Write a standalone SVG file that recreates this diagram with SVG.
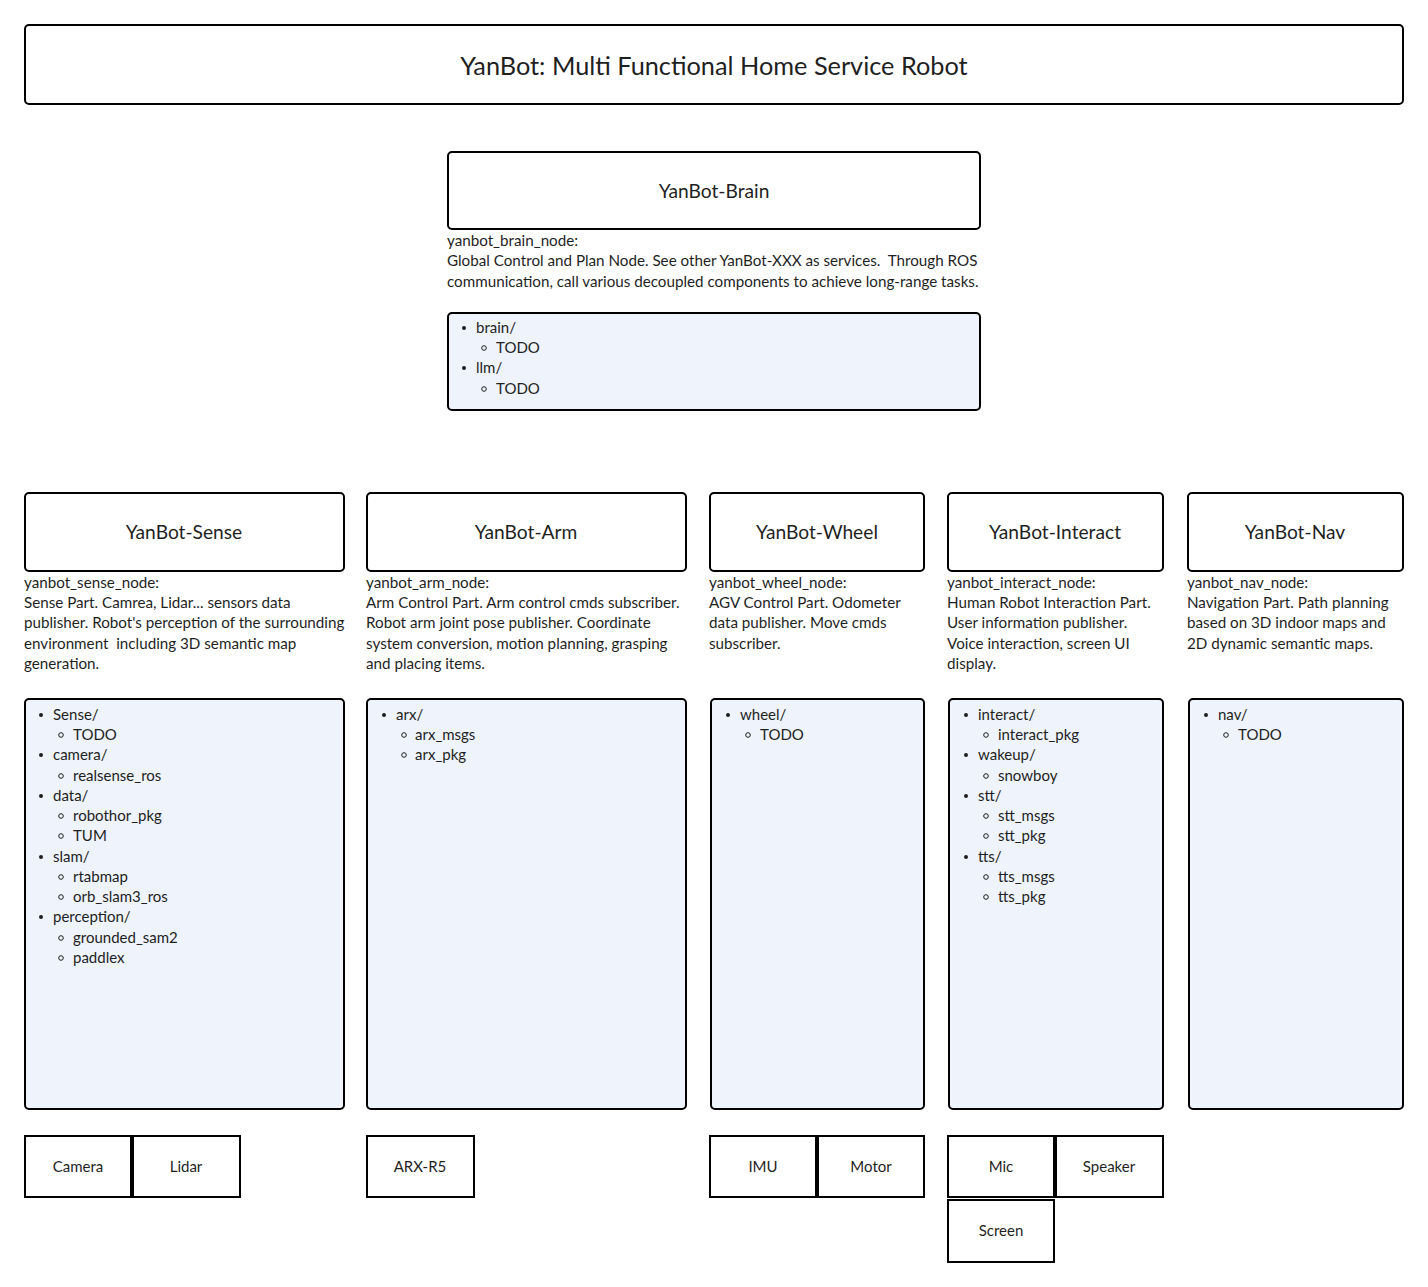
<svg xmlns="http://www.w3.org/2000/svg" width="1428" height="1287" viewBox="0 0 1428 1287">
<style>
text{font-family:Lato,"Source Sans Pro","Liberation Sans",sans-serif;fill:#1f1f1f;white-space:pre}
.box{fill:#fff;stroke:#000;stroke-width:2}
.list{fill:#eef3fc;stroke:#000;stroke-width:2}
.sq{fill:#fff;stroke:#000;stroke-width:2}
.t{font-size:19.2px;text-anchor:middle}
.d{font-size:15.2px}
.l{font-size:15px}
.s{font-size:15px;text-anchor:middle}
.b{fill:#1f1f1f}
.c{fill:none;stroke:#1f1f1f;stroke-width:1}
</style>
<g id="title"><rect class="box" x="25" y="25" width="1378" height="79" rx="4"/><text x="714" y="75" style="font-size:25.3px;text-anchor:middle">YanBot: Multi Functional Home Service Robot</text></g>

<g id="brain">
<rect class="box" x="448" y="152" width="532" height="77" rx="4"/>
<text class="t" x="714" y="198">YanBot-Brain</text>
<text class="d" x="447" y="246">yanbot_brain_node:</text>
<text class="d" x="447" y="266">Global Control and Plan Node. See other YanBot-XXX as services.  Through ROS</text>
<text class="d" x="447" y="287">communication, call various decoupled components to achieve long-range tasks.</text>
</g>
<g id="brain-list">
<rect class="list" x="448" y="313" width="532" height="97" rx="4"/>
<circle class="b" cx="464" cy="328" r="2"/><text class="l" x="476" y="333">brain/</text>
<circle class="c" cx="484" cy="348" r="2.3"/><text class="l" x="496" y="353">TODO</text>
<circle class="b" cx="464" cy="368" r="2"/><text class="l" x="476" y="373">llm/</text>
<circle class="c" cx="484" cy="389" r="2.3"/><text class="l" x="496" y="394">TODO</text>
</g>

<g id="sense">
<rect class="box" x="25" y="493" width="319" height="78" rx="4"/>
<text class="t" x="184" y="539">YanBot-Sense</text>
<text class="d" x="24" y="588">yanbot_sense_node:</text>
<text class="d" x="24" y="608">Sense Part. Camrea, Lidar... sensors data</text>
<text class="d" x="24" y="628">publisher. Robot's perception of the surrounding</text>
<text class="d" x="24" y="649">environment  including 3D semantic map</text>
<text class="d" x="24" y="669">generation.</text>
</g>
<g id="sense-list">
<rect class="list" x="25" y="699" width="319" height="410" rx="4"/>
<circle class="b" cx="41" cy="715" r="2"/><text class="l" x="53" y="720">Sense/</text>
<circle class="c" cx="61" cy="735" r="2.3"/><text class="l" x="73" y="740">TODO</text>
<circle class="b" cx="41" cy="755" r="2"/><text class="l" x="53" y="760">camera/</text>
<circle class="c" cx="61" cy="776" r="2.3"/><text class="l" x="73" y="781">realsense_ros</text>
<circle class="b" cx="41" cy="796" r="2"/><text class="l" x="53" y="801">data/</text>
<circle class="c" cx="61" cy="816" r="2.3"/><text class="l" x="73" y="821">robothor_pkg</text>
<circle class="c" cx="61" cy="836" r="2.3"/><text class="l" x="73" y="841">TUM</text>
<circle class="b" cx="41" cy="857" r="2"/><text class="l" x="53" y="862">slam/</text>
<circle class="c" cx="61" cy="877" r="2.3"/><text class="l" x="73" y="882">rtabmap</text>
<circle class="c" cx="61" cy="897" r="2.3"/><text class="l" x="73" y="902">orb_slam3_ros</text>
<circle class="b" cx="41" cy="917" r="2"/><text class="l" x="53" y="922">perception/</text>
<circle class="c" cx="61" cy="938" r="2.3"/><text class="l" x="73" y="943">grounded_sam2</text>
<circle class="c" cx="61" cy="958" r="2.3"/><text class="l" x="73" y="963">paddlex</text>
</g>

<g id="arm">
<rect class="box" x="367" y="493" width="319" height="78" rx="4"/>
<text class="t" x="526" y="539">YanBot-Arm</text>
<text class="d" x="366" y="588">yanbot_arm_node:</text>
<text class="d" x="366" y="608">Arm Control Part. Arm control cmds subscriber.</text>
<text class="d" x="366" y="628">Robot arm joint pose publisher. Coordinate</text>
<text class="d" x="366" y="649">system conversion, motion planning, grasping</text>
<text class="d" x="366" y="669">and placing items.</text>
</g>
<g id="arm-list">
<rect class="list" x="367" y="699" width="319" height="410" rx="4"/>
<circle class="b" cx="384" cy="715" r="2"/><text class="l" x="396" y="720">arx/</text>
<circle class="c" cx="404" cy="735" r="2.3"/><text class="l" x="415" y="740">arx_msgs</text>
<circle class="c" cx="404" cy="755" r="2.3"/><text class="l" x="415" y="760">arx_pkg</text>
</g>

<g id="wheel">
<rect class="box" x="710" y="493" width="214" height="78" rx="4"/>
<text class="t" x="817" y="539">YanBot-Wheel</text>
<text class="d" x="709" y="588">yanbot_wheel_node:</text>
<text class="d" x="709" y="608">AGV Control Part. Odometer</text>
<text class="d" x="709" y="628">data publisher. Move cmds</text>
<text class="d" x="709" y="649">subscriber.</text>
</g>
<g id="wheel-list">
<rect class="list" x="711" y="699" width="213" height="410" rx="4"/>
<circle class="b" cx="728" cy="715" r="2"/><text class="l" x="740" y="720">wheel/</text>
<circle class="c" cx="748" cy="735" r="2.3"/><text class="l" x="760" y="740">TODO</text>
</g>

<g id="interact">
<rect class="box" x="948" y="493" width="215" height="78" rx="4"/>
<text class="t" x="1055" y="539">YanBot-Interact</text>
<text class="d" x="947" y="588">yanbot_interact_node:</text>
<text class="d" x="947" y="608">Human Robot Interaction Part.</text>
<text class="d" x="947" y="628">User information publisher.</text>
<text class="d" x="947" y="649">Voice interaction, screen UI</text>
<text class="d" x="947" y="669">display.</text>
</g>
<g id="interact-list">
<rect class="list" x="949" y="699" width="214" height="410" rx="4"/>
<circle class="b" cx="966" cy="715" r="2"/><text class="l" x="978" y="720">interact/</text>
<circle class="c" cx="986" cy="735" r="2.3"/><text class="l" x="998" y="740">interact_pkg</text>
<circle class="b" cx="966" cy="755" r="2"/><text class="l" x="978" y="760">wakeup/</text>
<circle class="c" cx="986" cy="776" r="2.3"/><text class="l" x="998" y="781">snowboy</text>
<circle class="b" cx="966" cy="796" r="2"/><text class="l" x="978" y="801">stt/</text>
<circle class="c" cx="986" cy="816" r="2.3"/><text class="l" x="998" y="821">stt_msgs</text>
<circle class="c" cx="986" cy="836" r="2.3"/><text class="l" x="998" y="841">stt_pkg</text>
<circle class="b" cx="966" cy="857" r="2"/><text class="l" x="978" y="862">tts/</text>
<circle class="c" cx="986" cy="877" r="2.3"/><text class="l" x="998" y="882">tts_msgs</text>
<circle class="c" cx="986" cy="897" r="2.3"/><text class="l" x="998" y="902">tts_pkg</text>
</g>

<g id="nav">
<rect class="box" x="1188" y="493" width="215" height="78" rx="4"/>
<text class="t" x="1295" y="539">YanBot-Nav</text>
<text class="d" x="1187" y="588">yanbot_nav_node:</text>
<text class="d" x="1187" y="608">Navigation Part. Path planning</text>
<text class="d" x="1187" y="628">based on 3D indoor maps and</text>
<text class="d" x="1187" y="649">2D dynamic semantic maps.</text>
</g>
<g id="nav-list">
<rect class="list" x="1189" y="699" width="214" height="410" rx="4"/>
<circle class="b" cx="1206" cy="715" r="2"/><text class="l" x="1218" y="720">nav/</text>
<circle class="c" cx="1226" cy="735" r="2.3"/><text class="l" x="1238" y="740">TODO</text>
</g>

<g id="camera"><rect class="sq" x="25" y="1136" width="106" height="61"/><text class="s" x="78" y="1172">Camera</text></g>
<g id="lidar"><rect class="sq" x="133" y="1136" width="107" height="61"/><text class="s" x="186" y="1172">Lidar</text></g>
<g id="arx-r5"><rect class="sq" x="367" y="1136" width="107" height="61"/><text class="s" x="420" y="1172">ARX-R5</text></g>
<g id="imu"><rect class="sq" x="710" y="1136" width="106" height="61"/><text class="s" x="763" y="1172">IMU</text></g>
<g id="motor"><rect class="sq" x="818" y="1136" width="106" height="61"/><text class="s" x="871" y="1172">Motor</text></g>
<g id="mic"><rect class="sq" x="948" y="1136" width="106" height="61"/><text class="s" x="1001" y="1172">Mic</text></g>
<g id="speaker"><rect class="sq" x="1056" y="1136" width="107" height="61"/><text class="s" x="1109" y="1172">Speaker</text></g>
<g id="screen"><rect class="sq" x="948" y="1200" width="106" height="62"/><text class="s" x="1001" y="1236">Screen</text></g>

<g id="connectors"></g>
</svg>
